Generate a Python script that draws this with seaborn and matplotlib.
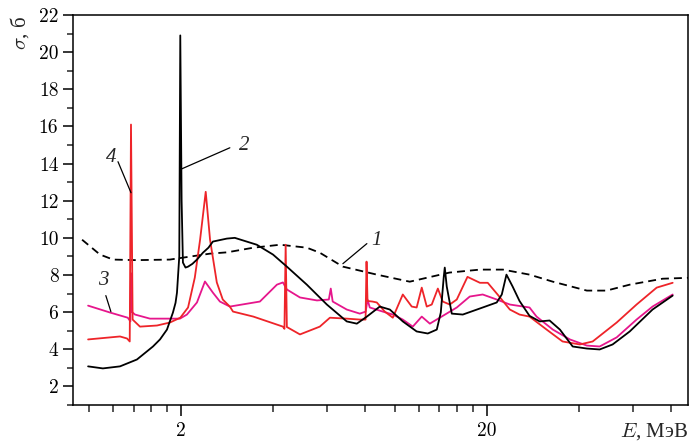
import numpy as np
import pandas as pd
import matplotlib
matplotlib.use("Agg")
import matplotlib.pyplot as plt
from matplotlib.ticker import FixedLocator, NullFormatter
import seaborn as sns


# curve 1 (dashed)
E1 = [0.95, 1.087, 1.20, 1.43, 1.84, 2.49, 2.83, 3.45, 4.22, 5.16, 5.69, 6.77,
      8.74, 11.2, 15.1, 19.0, 22.6, 27.6, 32.9, 42.5, 49.3, 58.7, 75.2, 92.0]
S1 = [9.9, 9.1, 8.83, 8.8, 8.83, 9.15, 9.22, 9.47, 9.63, 9.47, 9.2, 8.45,
      8.02, 7.64, 8.13, 8.29, 8.29, 8.02, 7.64, 7.16, 7.16, 7.48, 7.8, 7.85]

# curve 2 (black)
E2 = [0.994, 1.111, 1.264, 1.436, 1.62, 1.708, 1.80, 1.883, 1.92, 1.941, 1.975,
      1.99, 2.01, 2.03, 2.07, 2.11, 2.18, 2.256, 2.36, 2.46, 2.544, 2.826, 3.0,
      3.54, 4.0, 4.44, 5.16, 6.0, 6.97, 7.52, 8.11, 8.94, 9.64, 10.63, 11.8,
      12.83, 13.73, 14.15, 14.47, 14.58, 14.8, 15.37, 16.7, 19.4, 21.56, 22.4,
      23.2, 24.3, 25.6, 27.6, 29.8, 32.1, 34.7, 38.2, 42.5, 46.8, 51.6, 58.7,
      69.7, 81.1]
S2 = [3.08, 2.97, 3.08, 3.45, 4.15, 4.53, 5.06, 5.98, 6.5, 7.05, 9.0,
      20.9, 12.0, 8.67, 8.4, 8.45, 8.6, 8.83, 9.2, 9.47, 9.8, 9.96, 10.0,
      9.63, 9.1, 8.45, 7.48, 6.41, 5.5, 5.38, 5.76, 6.3, 6.14, 5.5, 4.96,
      4.85, 5.06, 5.98, 7.9, 8.4, 7.38, 5.92, 5.87, 6.25, 6.52, 6.95,
      8.02, 7.38, 6.6, 5.8, 5.5, 5.55, 5.06, 4.15, 4.04, 3.99, 4.26, 4.96,
      6.14, 6.89]

# curve 3 (magenta)
E3 = [0.994, 1.172, 1.34, 1.367, 1.373, 1.385, 1.415, 1.584, 1.985, 2.092,
      2.256, 2.396, 2.544, 2.682, 2.89, 3.624, 4.12, 4.31, 4.44, 4.9, 5.57,
      6.09, 6.18, 6.27, 6.97, 7.69, 8.04, 8.15, 8.29, 9.14, 9.86, 10.63, 11.46,
      12.26, 13.03, 14.04, 15.96, 17.6, 19.4, 21.56, 23.8, 27.6, 29.1, 32.9,
      37.4, 42.5, 46.8, 53.2, 61.8, 69.7, 81.1]
S3 = [6.35, 5.98, 5.7, 5.5, 8.1, 6.0, 5.87, 5.65, 5.65, 5.87,
      6.52, 7.65, 7.05, 6.57, 6.3, 6.57, 7.48, 7.6, 7.22, 6.79, 6.63,
      6.68, 7.27, 6.57, 6.14, 5.92, 6.03, 6.68, 6.25, 6.03, 5.87, 5.6, 5.22,
      5.76, 5.38, 5.7, 6.25, 6.84, 6.95, 6.68, 6.41, 6.25, 5.76, 5.06,
      4.53, 4.2, 4.15, 4.64, 5.6, 6.3, 6.95]

# curve 4 (red)
E4 = [0.994, 1.264, 1.333, 1.36, 1.373, 1.39, 1.469, 1.67, 1.84, 1.99, 2.11,
      2.22, 2.31, 2.41, 2.49, 2.62, 2.74, 2.89, 2.96, 3.45, 4.31, 4.36, 4.40,
      4.44, 4.9, 5.69, 6.14, 6.97, 7.69, 8.03, 8.09, 8.15, 8.46, 8.74, 9.28,
      9.86, 10.63, 11.37, 11.8, 12.26, 12.73, 13.22, 13.84, 14.36, 15.14,
      15.96, 17.3, 19.0, 20.15, 21.7, 23.8, 25.6, 27.6, 31.4, 35.4, 40.3,
      44.4, 53.2, 61.8, 71.9, 81.1]
S4 = [4.53, 4.69, 4.58, 4.42, 16.1, 5.6, 5.22, 5.28, 5.44, 5.7, 6.25,
      7.86, 9.9, 12.48, 9.9, 7.6, 6.68, 6.3, 6.03, 5.76, 5.22, 5.1, 9.63,
      5.2, 4.8, 5.22, 5.7, 5.65, 5.6, 5.6, 8.72, 6.6, 6.57, 6.52, 6.03,
      5.7, 6.95, 6.3, 6.25, 7.32, 6.3, 6.41, 7.27, 6.57, 6.41,
      6.68, 7.9, 7.58, 7.58, 6.95, 6.14, 5.87, 5.76, 5.06, 4.42, 4.26,
      4.42, 5.44, 6.41, 7.32, 7.58]

x_minor = [1.0, 1.2, 1.4, 1.6, 1.8, 4, 6, 8, 10, 12, 14, 16, 18, 40, 60, 80]
x_major = [2, 20]
y_major = list(range(2, 23, 2))
y_minor = list(range(1, 22, 2))

RED = "#ee2429"
MAGENTA = "#e6168c"

sns.set_style("ticks")
plt.rcParams["font.family"] = ["cmr10", "DejaVu Serif"]
plt.rcParams["mathtext.fontset"] = "cm"
plt.rcParams["axes.formatter.use_mathtext"] = True

fig = plt.figure(figsize=(6.91, 4.45), dpi=100)
ax = fig.add_axes([0.1056, 0.0899, 0.8900, 0.8764])
ax.set_xscale("log")

df1 = pd.DataFrame({"E": E1, "s": S1})
df2 = pd.DataFrame({"E": E2, "s": S2})
df3 = pd.DataFrame({"E": E3, "s": S3})
df4 = pd.DataFrame({"E": E4, "s": S4})

lw = 1.3
sns.lineplot(data=df1, x="E", y="s", ax=ax, color="black", lw=lw,
             estimator=None, sort=False)
ax.lines[-1].set_dashes((4.4, 2.8))
sns.lineplot(data=df3, x="E", y="s", ax=ax, color=MAGENTA, lw=lw,
             estimator=None, sort=False)
sns.lineplot(data=df4, x="E", y="s", ax=ax, color=RED, lw=lw,
             estimator=None, sort=False)
sns.lineplot(data=df2, x="E", y="s", ax=ax, color="black", lw=lw,
             estimator=None, sort=False)

ax.set_xlim(0.887, 91)
ax.set_ylim(1.0, 22.0)

ax.xaxis.set_major_locator(FixedLocator(x_major))
ax.xaxis.set_minor_locator(FixedLocator(x_minor))
ax.set_xticklabels([str(v) for v in x_major])
ax.xaxis.set_minor_formatter(NullFormatter())
ax.yaxis.set_major_locator(FixedLocator(y_major))
ax.yaxis.set_minor_locator(FixedLocator(y_minor))
ax.set_yticklabels([str(v) for v in y_major])

ax.tick_params(which="major", direction="out", width=1.1, labelsize=14,
               color="black", labelcolor="black")
ax.tick_params(axis="x", which="major", length=8, pad=4)
ax.tick_params(axis="x", which="minor", length=5, width=1.1, direction="out")
ax.tick_params(axis="y", which="major", length=7.5, pad=3)
ax.tick_params(axis="y", which="minor", length=4, width=1.1, direction="out")
for sp in ax.spines.values():
    sp.set_linewidth(1.1)
    sp.set_color("black")

cyr = ["Liberation Serif", "DejaVu Serif"]
ax.set_ylabel("")
ax.set_xlabel(r"$E$, МэВ", fontsize=15, ha="right", va="top", family=cyr)
ax.xaxis.set_label_coords(1.0, -0.04)
fig.text(0.028, 0.965, r"$\sigma$, б", rotation=90, fontsize=15,
         ha="center", va="top", family=cyr)

# curve labels with leader lines
lab = dict(fontsize=15, family="Liberation Serif", style="italic",
           ha="center", va="center")
arr = dict(arrowstyle="-", color="black", lw=0.9, shrinkA=0, shrinkB=0)
ax.annotate("1", xy=(6.77, 8.61), xytext=(8.74, 9.85), textcoords="data",
            arrowprops=None, **lab)
ax.annotate("", xy=(6.77, 8.61), xytext=(8.11, 9.69), arrowprops=arr)
ax.annotate("2", xy=(2.015, 13.72), xytext=(3.21, 14.96), **lab)
ax.annotate("", xy=(2.015, 13.72), xytext=(2.89, 14.85), arrowprops=arr)
ax.annotate("3", xy=(1.18, 6.03), xytext=(1.111, 7.70), **lab)
ax.annotate("", xy=(1.18, 6.03), xytext=(1.136, 6.89), arrowprops=arr)
ax.annotate("4", xy=(1.373, 12.43), xytext=(1.18, 14.31), **lab)
ax.annotate("", xy=(1.373, 12.43), xytext=(1.245, 14.1), arrowprops=arr)

fig.savefig("out.png", dpi=100)
